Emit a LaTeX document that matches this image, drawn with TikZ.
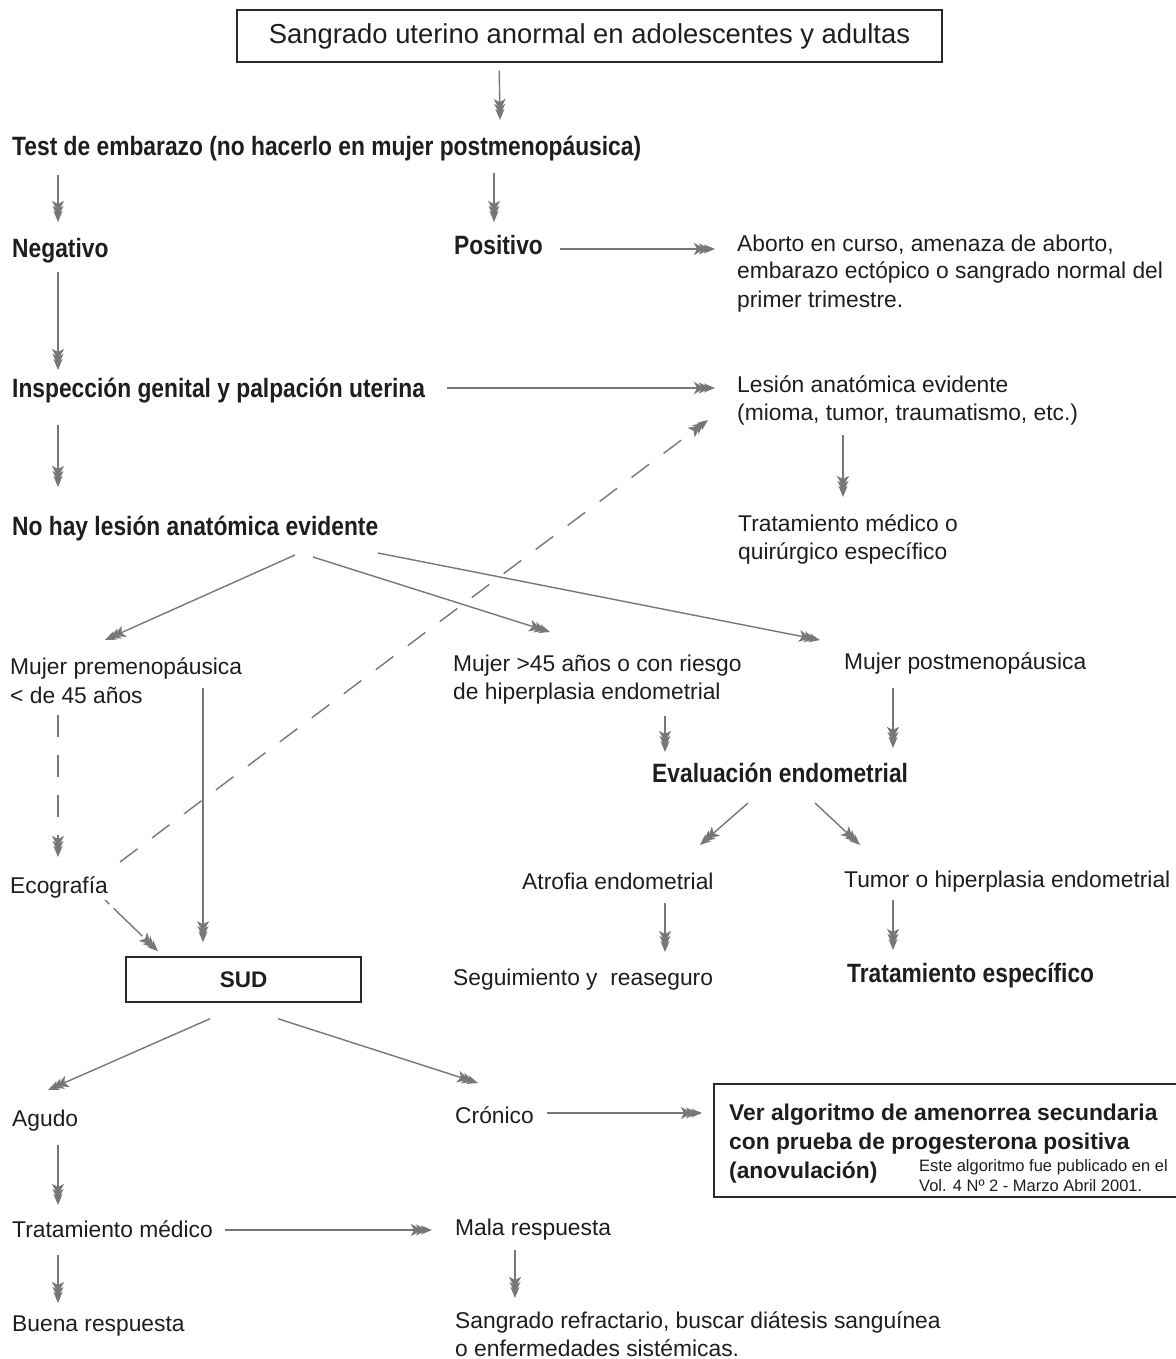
\documentclass[tikz,border=0pt]{standalone}
\usepackage{fontspec}
\setmainfont{Liberation Sans}
\newfontfamily\condbold[FakeStretch=0.86]{Liberation Sans Bold}
\usetikzlibrary{arrows.meta,calc}
\definecolor{tc}{HTML}{1E1E1E}
\definecolor{lg}{HTML}{777777}
\definecolor{bc}{HTML}{2A2A2A}
\newcommand{\mlines}[1]{\begin{tabular}[t]{@{}l@{}}#1\end{tabular}}
\begin{document}
\begin{tikzpicture}[x=1pt,y=-1pt,
  txt/.style={anchor=base west, inner sep=0pt, text=tc, font=\fontsize{22.8}{28}\selectfont},
  txtb/.style={txt, font=\fontsize{22.8}{29}\selectfont},
  bt/.style={txt, font=\condbold\fontsize{26.5}{30}\selectfont},
  bx/.style={txt, font=\bfseries\fontsize{22.8}{29}\selectfont},
  sm/.style={txt, font=\fontsize{16.5}{20}\selectfont},
  boxed/.style={draw=bc, line width=1.5pt, inner sep=0pt, text=tc},
  arr/.style={draw=lg, line width=1.4pt,
    -{Stealth[length=11pt,width=12pt,inset=3pt,sep=-6pt]Stealth[length=11pt,width=11pt,inset=3pt,sep=-6pt]Stealth[length=11pt,width=9pt,inset=3pt]}},
  dsh/.style={arr, dash pattern=on 22pt off 18pt}
]
\useasboundingbox (0,0) rectangle (1175,1359);
\fill[white] (0,0) rectangle (1175,1359);

% nodes
\node[boxed, minimum width=705pt, minimum height=52pt, font=\fontsize{27.4}{30}\selectfont] (title) at (589.5,36) {Sangrado uterino anormal en adolescentes y adultas};
\node[bt] (test) at (12,156) {Test de embarazo (no hacerlo en mujer postmenopáusica)};
\node[bt] (neg) at (12,257) {Negativo};
\node[bt] (pos) at (454,254) {Positivo};
\node[txt] (abo) at (737,251) {\mlines{Aborto en curso, amenaza de aborto,\\embarazo ectópico o sangrado normal del\\primer trimestre.}};
\node[bt] (insp) at (12,397) {Inspección genital y palpación uterina};
\node[txt] (les) at (737,392) {\mlines{Lesión anatómica evidente\\(mioma, tumor, traumatismo, etc.)}};
\node[txt] (trq) at (738,531) {\mlines{Tratamiento médico o\\quirúrgico específico}};
\node[bt] (nohay) at (12,535) {No hay lesión anatómica evidente};
\node[txtb] (pre) at (10,674) {\mlines{Mujer premenopáusica\\< de 45 años}};
\node[txt] (m45) at (453,671) {\mlines{Mujer >45 años o con riesgo\\de hiperplasia endometrial}};
\node[txt] (post) at (844,669) {Mujer postmenopáusica};
\node[bt] (eval) at (652,782) {Evaluación endometrial};
\node[txt] (eco) at (10,893) {Ecografía};
\node[txt] (atr) at (522,889) {Atrofia endometrial};
\node[txt] (tum) at (844,887) {Tumor o hiperplasia endometrial};
\node[boxed, minimum width=235pt, minimum height=45pt, font=\bfseries\fontsize{22.5}{26}\selectfont] (sud) at (243.5,979.5) {SUD};
\node[txt] (seg) at (453,985) {Seguimiento y\ \ reaseguro};
\node[bt] (tre) at (847,982) {Tratamiento específico};
\node[txt] (agu) at (12,1126) {Agudo};
\node[txt] (cro) at (455,1123) {Crónico};
\node[boxed, minimum width=463pt, minimum height=113pt, anchor=north west] (ver) at (713,1083) {};
\node[bx] (vert) at (729,1120) {\mlines{Ver algoritmo de amenorrea secundaria\\con prueba de progesterona positiva\\(anovulación)}};
\node[sm] (pub) at (919,1171) {\mlines{Este algoritmo fue publicado en el\\Vol. 4 Nº 2 - Marzo Abril 2001.}};
\node[txt] (tm) at (12,1237) {Tratamiento médico};
\node[txt] (mal) at (455,1235) {Mala respuesta};
\node[txt] (bue) at (12,1331) {Buena respuesta};
\node[txt] (san) at (455,1328) {\mlines{Sangrado refractario, buscar diátesis sanguínea\\o enfermedades sistémicas.}};

% connectors
\draw[arr] ($(title.south west)+(263,8)$) -- ($(test.base west)+(488,-36)$);
\draw[arr] ($(test.base west)+(46,19)$) -- ($(neg.base west)+(46,-35)$);
\draw[arr] ($(test.base west)+(482,17)$) -- ($(pos.base west)+(40,-32)$);
\draw[arr] ($(pos.base west)+(106,-5)$) -- ($(abo.base west)+(-22,-2)$);
\draw[arr] ($(neg.base west)+(46,15)$) -- ($(insp.base west)+(46,-27)$);
\draw[arr] ($(insp.base west)+(435,-9)$) -- ($(les.base west)+(-22,-4)$);
\draw[arr] ($(les.base west)+(106,43)$) -- ($(trq.base west)+(105,-34)$);
\draw[arr] ($(insp.base west)+(46,28)$) -- ($(nohay.base west)+(46,-48)$);
\draw[arr] ($(nohay.base west)+(283,20)$) -- ($(pre.base west)+(95,-34)$);
\draw[arr] ($(nohay.base west)+(301,22)$) -- ($(m45.base west)+(97,-39)$);
\draw[arr] ($(nohay.base west)+(366,18)$) -- ($(post.base west)+(-24,-29)$);
\draw[dsh] ($(pre.base west)+(48,41)$) -- ($(eco.base west)+(48,-36)$);
\draw[arr] ($(pre.base west)+(193,14)$) -- ($(sud.north)+(-40.5,-14)$);
\draw[dsh] ($(eco.base west)+(110,-31)$) -- ($(les.base west)+(-29,28)$);
\draw[arr, dash pattern=on 6pt off 6pt on 40pt] ($(eco.base west)+(95,7)$) -- ($(sud.north)+(-85.5,-5)$);
\draw[arr] ($(m45.base west)+(212,45)$) -- ($(eval.base west)+(13,-30)$);
\draw[arr] ($(post.base west)+(49,19)$) -- ($(eval.base west)+(241,-34)$);
\draw[arr] ($(eval.base west)+(96,21)$) -- ($(atr.base west)+(178,-44)$);
\draw[arr] ($(eval.base west)+(163,21)$) -- ($(tum.base west)+(16,-42)$);
\draw[arr] ($(atr.base west)+(143,14)$) -- ($(seg.base west)+(212,-33)$);
\draw[arr] ($(tum.base west)+(49,13)$) -- ($(tre.base west)+(46,-32)$);
\draw[arr] ($(sud.south)+(-33.5,16)$) -- ($(agu.base west)+(36,-36)$);
\draw[arr] ($(sud.south)+(34.5,16)$) -- ($(cro.base west)+(23,-40)$);
\draw[arr] ($(cro.base west)+(92,-10)$) -- ($(ver.north west)+(-11,30)$);
\draw[arr] ($(agu.base west)+(46,19)$) -- ($(tm.base west)+(46,-32)$);
\draw[arr] ($(tm.base west)+(213,-7)$) -- ($(mal.base west)+(-23,-5)$);
\draw[arr] ($(tm.base west)+(46,18)$) -- ($(bue.base west)+(46,-28)$);
\draw[arr] ($(mal.base west)+(60,15)$) -- ($(san.base west)+(60,-30)$);
\end{tikzpicture}
\end{document}
